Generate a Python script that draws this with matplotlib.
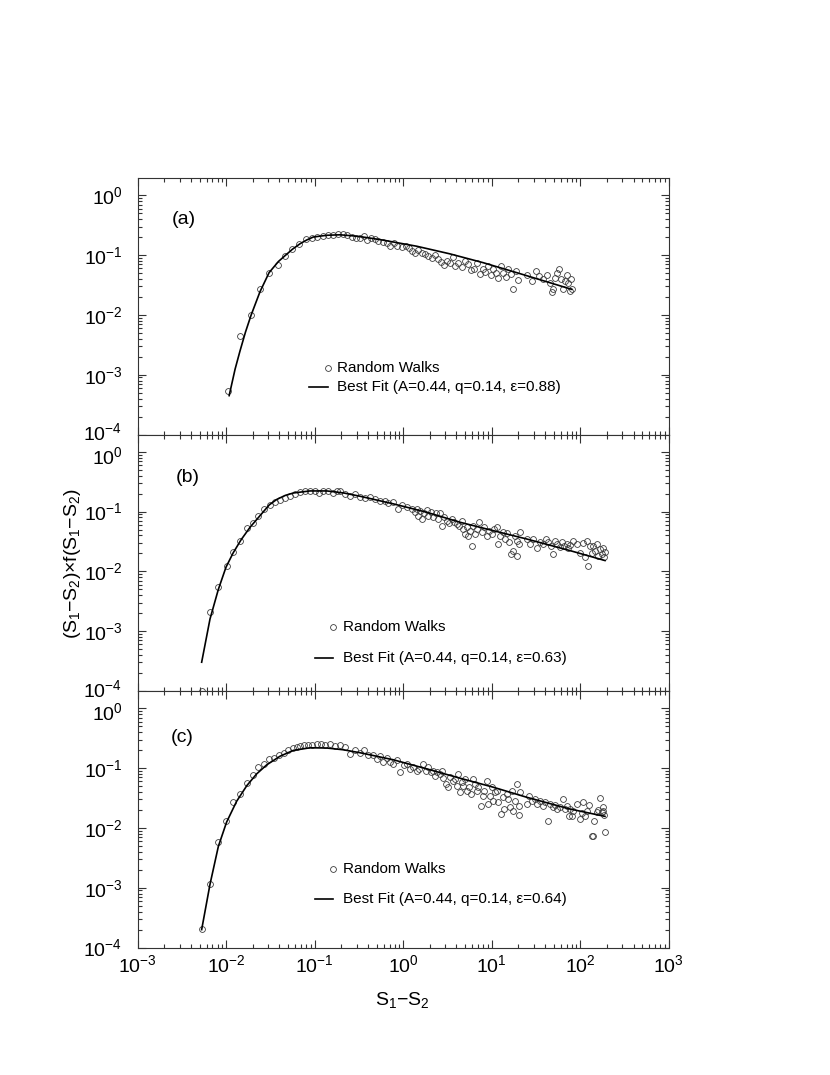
import numpy as np
import matplotlib
matplotlib.use('Agg')
import matplotlib.pyplot as plt
from matplotlib.ticker import LogLocator
from matplotlib.transforms import ScaledTranslation

# Fonts: Helvetica-like text, also inside the math (tick labels, subscripts)
plt.rcParams['font.family'] = ['Liberation Sans', 'DejaVu Sans']
plt.rcParams['mathtext.fontset'] = 'custom'
plt.rcParams['mathtext.rm'] = 'Liberation Sans'
plt.rcParams['mathtext.it'] = 'Liberation Sans'
plt.rcParams['mathtext.bf'] = 'Liberation Sans:bold'
plt.rcParams['mathtext.sf'] = 'Liberation Sans'

# ---- panel (a): random walk points and best fit ----
x_a = [0.0106, 0.0143, 0.0191, 0.0241, 0.0305, 0.0380, 0.0462, 0.0558, 0.0670, 0.0798,
       0.0925, 0.105, 0.123, 0.140, 0.160, 0.185, 0.210, 0.230, 0.262, 0.293,
       0.325, 0.361, 0.387, 0.429, 0.480, 0.523, 0.587, 0.651, 0.709, 0.787,
       0.845, 0.962, 1.08, 1.17, 1.25, 1.36, 1.48, 1.62, 1.76, 1.92,
       2.10, 2.29, 2.49, 2.65, 2.89, 3.10, 3.38, 3.63, 3.85, 4.20,
       4.58, 4.99, 5.44, 5.79, 6.31, 6.77, 7.38, 7.91, 8.40, 9.16,
       9.75, 10.4, 11.2, 11.9, 12.6, 13.5, 14.5, 15.4, 16.4, 17.5,
       18.8, 20.0, 24.8, 28.3, 31.6, 34.5, 38.3, 41.8, 45.6, 47.6,
       49.7, 51.9, 54.2, 58.0, 60.2, 63.4, 67.3, 70.3, 73.4, 76.7,
       78.1, 79.8]
y_a = [0.00054, 0.00437, 0.0099, 0.0275, 0.0509, 0.0679, 0.0962, 0.128, 0.155, 0.183,
       0.195, 0.203, 0.213, 0.215, 0.219, 0.227, 0.224, 0.221, 0.203, 0.195,
       0.192, 0.207, 0.178, 0.195, 0.183, 0.171, 0.165, 0.157, 0.145, 0.157,
       0.141, 0.138, 0.141, 0.133, 0.117, 0.107, 0.121, 0.110, 0.103, 0.0962,
       0.0905, 0.0989, 0.0848, 0.0764, 0.0673, 0.0794, 0.0727, 0.094, 0.0656, 0.0747,
       0.0641, 0.0794, 0.070, 0.0562, 0.0593, 0.0727, 0.0477, 0.0578, 0.0521, 0.0656,
       0.0459, 0.0578, 0.0495, 0.042, 0.0656, 0.0509, 0.0437, 0.0578, 0.0477, 0.0275,
       0.0541, 0.0383, 0.0459, 0.0369, 0.0541, 0.0447, 0.0394, 0.0459, 0.0347, 0.0242,
       0.0268, 0.042, 0.0509, 0.0578, 0.0394, 0.0268, 0.0369, 0.0459, 0.0347, 0.0251,
       0.0394, 0.0268]
fit_x_a = [0.0108, 0.0126, 0.0143, 0.0165, 0.0191, 0.0241, 0.0305, 0.0388, 0.0462, 0.0558,
           0.0682, 0.081, 0.0964, 0.137, 0.193, 0.273, 0.387, 0.596, 1.42, 3.38,
           8.04, 19.2, 80.2]
fit_y_a = [0.000447, 0.00124, 0.00248, 0.00515, 0.0099, 0.0245, 0.0509, 0.078, 0.098, 0.125,
           0.155, 0.179, 0.201, 0.215, 0.219, 0.21, 0.197, 0.178, 0.141, 0.105,
           0.0747, 0.0509, 0.0268]

# ---- panel (b) ----
x_b = [0.00528, 0.00656, 0.00815, 0.0101, 0.0120, 0.0144, 0.0171, 0.0199, 0.0231, 0.0269,
       0.0313, 0.0356, 0.0405, 0.0462, 0.0526, 0.0599, 0.0682, 0.0777, 0.0885, 0.101,
       0.112, 0.125, 0.143, 0.162, 0.180, 0.193, 0.220, 0.251, 0.285, 0.325,
       0.370, 0.422, 0.480, 0.547, 0.622, 0.679, 0.773, 0.867, 0.962, 1.10,
       1.25, 1.36, 1.48,
       1.42, 1.55, 1.62, 1.72, 1.84, 1.92, 2.05, 2.19, 2.35, 2.49,
       2.61, 2.72, 2.89, 3.10, 3.32, 3.53, 3.75, 4.03, 4.31, 4.58,
       4.78, 4.99, 5.22, 5.44, 5.69, 5.94, 6.19, 6.47, 6.88, 7.24,
       7.71, 8.18, 8.79, 9.40, 10.0, 10.6, 11.4, 11.9, 12.4, 13.3,
       14.1, 15.0, 15.8, 16.4, 17.3, 18.3, 19.2, 19.5, 20.5, 20.9,
       24.8, 27.1, 29.5, 32.7, 35.2, 38.3, 41.1, 43.6, 46.4, 49.7,
       51.9, 55.1, 59.2, 61.8, 65.6, 70.3, 73.4, 76.7, 83.6, 91.2,
       99.5, 107, 113, 118, 124, 129, 135, 141, 147, 154,
       160, 167, 175, 182, 186, 191]
y_b = [0.0001, 0.00208, 0.00544, 0.0125, 0.0212, 0.0327, 0.053, 0.0643, 0.0838, 0.110,
       0.128, 0.144, 0.159, 0.167, 0.185, 0.198, 0.216, 0.224, 0.224, 0.224,
       0.203, 0.224, 0.224, 0.203, 0.222, 0.224, 0.198, 0.185, 0.198, 0.174,
       0.167, 0.178, 0.163, 0.153, 0.153, 0.140, 0.147, 0.111, 0.129, 0.119,
       0.111, 0.100, 0.0857,
       0.111, 0.104, 0.0755, 0.094, 0.107, 0.0857, 0.0977, 0.0825, 0.094, 0.0755,
       0.094, 0.0583, 0.0806, 0.0707, 0.064, 0.0755, 0.0665, 0.0623, 0.0583, 0.0707,
       0.0514, 0.0424, 0.0548, 0.0397, 0.0481, 0.027, 0.0583, 0.0424, 0.0514, 0.0665,
       0.0453, 0.0548, 0.0397, 0.0481, 0.0424, 0.0514, 0.0548, 0.0288, 0.0397, 0.0453,
       0.0349, 0.0436, 0.0308, 0.0196, 0.0223, 0.0397, 0.0184, 0.0327, 0.0288, 0.0453,
       0.0349, 0.0288, 0.0349, 0.0247, 0.0308, 0.0288, 0.0349, 0.0308, 0.027, 0.0196,
       0.0327, 0.0288, 0.026, 0.0308, 0.027, 0.0288, 0.0247, 0.0277, 0.0327, 0.0288,
       0.0204, 0.030, 0.0173, 0.0327, 0.0125, 0.027, 0.0204, 0.0264, 0.0223, 0.0288,
       0.0184, 0.0238, 0.0196, 0.0244, 0.0173, 0.0209]
fit_x_b = [0.00528, 0.00656, 0.00815, 0.00995, 0.012, 0.0147, 0.0186, 0.0241, 0.0307, 0.0372,
           0.0465, 0.0573, 0.0885, 0.137, 0.21, 0.325, 0.773, 1.84, 4.38, 10.4,
           24.8, 76.7, 190.5]
fit_y_b = [0.000303, 0.0016, 0.005, 0.0118, 0.0205, 0.0337, 0.0548, 0.0857, 0.13, 0.16,
           0.187, 0.205, 0.222, 0.222, 0.206, 0.181, 0.135, 0.0977, 0.0665, 0.0481,
           0.0349, 0.0223, 0.0152]

# ---- panel (c) ----
x_c = [0.00528, 0.00656, 0.00815, 0.00995, 0.0120, 0.0143, 0.0171, 0.0199, 0.0231, 0.0267,
       0.0307, 0.0347, 0.0398, 0.045, 0.0504, 0.0564, 0.0627, 0.0682, 0.0763, 0.0847,
       0.094, 0.105, 0.117, 0.131, 0.149, 0.170, 0.193, 0.220, 0.251, 0.285,
       0.325, 0.363, 0.403, 0.459, 0.502, 0.547, 0.596, 0.651, 0.709, 0.773,
       0.845, 0.92, 1.02, 1.11, 1.19, 1.30, 1.42, 1.52, 1.69, 1.81,
       1.92, 2.05, 2.15, 2.29, 2.39, 2.61, 2.72, 2.84, 3.05, 3.24,
       3.38, 3.63, 3.85, 4.08, 4.20, 4.38, 4.58, 4.78, 4.99, 5.22,
       5.58, 5.79, 6.19, 6.47, 6.77, 7.06, 7.51, 7.91, 8.18, 8.79,
       9.16, 9.57, 10.0, 10.4, 10.9, 11.4, 11.9, 12.6, 13.3, 13.9,
       14.8, 15.4, 16.1, 16.8, 17.5, 18.3, 19.2, 20.1, 20.6, 20.9,
       24.8, 26.6, 28.3, 30.8, 32.7, 35.2, 37.7, 40.0, 43.6, 45.6,
       48.9, 51.9, 55.1, 59.2, 63.4, 67.3, 71.5, 75.3, 76.7, 80.2,
       83.6, 91.2, 99.5, 104, 108, 113, 118, 127, 135, 141,
       144, 154, 160, 167, 175, 180, 182, 186, 191]
y_c = [0.000207, 0.00114, 0.00571, 0.0132, 0.0269, 0.037, 0.056, 0.078, 0.104, 0.118,
       0.143, 0.149, 0.169, 0.179, 0.198, 0.219, 0.225, 0.231, 0.246, 0.240,
       0.246, 0.249, 0.256, 0.246, 0.249, 0.234, 0.240, 0.225, 0.174, 0.198,
       0.179, 0.198, 0.169, 0.163, 0.143, 0.157, 0.126, 0.149, 0.126, 0.118,
       0.138, 0.0857, 0.111, 0.118, 0.0973, 0.106, 0.0912, 0.0973, 0.118, 0.0912,
       0.104, 0.0857, 0.0912, 0.0751, 0.0877, 0.0802, 0.0912, 0.0679, 0.0545, 0.048,
       0.0706, 0.0619, 0.0661, 0.0498, 0.0802, 0.0395, 0.0582, 0.051, 0.0661, 0.042,
       0.048, 0.037, 0.0661, 0.0545, 0.042, 0.048, 0.0235, 0.0346, 0.042, 0.0619,
       0.0251, 0.0346, 0.048, 0.0285, 0.0395, 0.042, 0.0269, 0.0171, 0.0326, 0.0207,
       0.037, 0.0305, 0.0221, 0.042, 0.0194, 0.0285, 0.0545, 0.0235, 0.0164, 0.0395,
       0.0251, 0.0346, 0.0285, 0.0305, 0.0251, 0.0285, 0.0235, 0.0269, 0.0132, 0.0251,
       0.0221, 0.0242, 0.0207, 0.0221, 0.0305, 0.0207, 0.0235, 0.016, 0.0207, 0.016,
       0.0194, 0.0251, 0.0141, 0.0175, 0.0269, 0.016, 0.0194, 0.0245, 0.00736, 0.00736,
       0.0132, 0.0182, 0.0199, 0.0317, 0.0182, 0.0226, 0.0194, 0.0166, 0.0084]
fit_x_c = [0.00528, 0.00656, 0.00815, 0.0101, 0.0131, 0.0171, 0.0221, 0.0287, 0.0405, 0.0573,
           0.0885, 0.137, 0.21, 0.325, 0.773, 1.84, 4.38, 10.4, 24.8, 76.7,
           190.5]
fit_y_c = [0.000199, 0.00114, 0.0049, 0.0125, 0.0278, 0.051, 0.0802, 0.1135, 0.158, 0.198,
           0.219, 0.217, 0.203, 0.181, 0.138, 0.0973, 0.0679, 0.048, 0.0326, 0.0207,
           0.0156]

panel_labels = ['(a)', '(b)', '(c)']
fit_labels = ['Best Fit (A=0.44, q=0.14, \u03b5=0.88)',
              'Best Fit (A=0.44, q=0.14, \u03b5=0.63)',
              'Best Fit (A=0.44, q=0.14, \u03b5=0.64)']

# layout (axes coords) for the panel tag and the hand-placed legend
tag_pos = [(0.086, 0.84), (0.095, 0.832), (0.083, 0.82)]
# marker x, marker y, line x0, line x1, line y, text x
leg_pos = [(0.358, 0.26, 0.322, 0.358, 0.186, 0.376),
           (0.368, 0.249, 0.334, 0.368, 0.13, 0.387),
           (0.368, 0.305, 0.334, 0.368, 0.188, 0.387)]

data = [(x_a, y_a, fit_x_a, fit_y_a), (x_b, y_b, fit_x_b, fit_y_b), (x_c, y_c, fit_x_c, fit_y_c)]

fig = plt.figure(figsize=(8.3, 10.75), dpi=100)
left, width, h = 0.1659, 0.6398, 0.2386
bottoms = [0.5958, 0.3572, 0.1186]

mk = dict(marker='o', linestyle='none', mfc='none', mec='#3c3c3c', ms=4.2, mew=0.6)

axes = []
for i, (x, y, fx, fy) in enumerate(data):
    ax = fig.add_axes([left, bottoms[i], width, h])
    axes.append(ax)
    ax.set_xscale('log')
    ax.set_yscale('log')

    ax.plot(fx, fy, color='black', lw=1.2, zorder=3)
    ax.plot(x, y, clip_on=False, zorder=2, **mk)

    ax.set_xlim(1e-3, 1e3)
    ax.set_ylim(1e-4, 1.95)

    ax.xaxis.set_major_locator(LogLocator(base=10, numticks=10))
    ax.xaxis.set_minor_locator(LogLocator(base=10, subs=np.arange(2, 10), numticks=20))
    ax.yaxis.set_major_locator(LogLocator(base=10, numticks=10))
    ax.yaxis.set_minor_locator(LogLocator(base=10, subs=np.arange(2, 10), numticks=20))

    ax.tick_params(which='both', direction='in', top=True, right=True, width=0.8, color='#333333')
    ax.tick_params(which='major', length=6)
    ax.tick_params(which='minor', length=3)
    ax.tick_params(axis='y', labelsize=14, pad=11)
    ax.tick_params(axis='x', labelsize=14, pad=5, labelbottom=(i == 2))
    for s in ax.spines.values():
        s.set_linewidth(0.8)
        s.set_color('#333333')

    ax.text(tag_pos[i][0], tag_pos[i][1], panel_labels[i], transform=ax.transAxes,
            fontsize=14, ha='center', va='center')

    # legend drawn by hand so the marker sits at the end of the line sample
    mx, my, lx0, lx1, ly, tx = leg_pos[i]
    ax.plot([mx], [my], transform=ax.transAxes, clip_on=False, **mk)
    ax.plot([lx0, lx1], [ly, ly], transform=ax.transAxes, color='black', lw=1.2)
    ax.text(tx, my, 'Random Walks', transform=ax.transAxes, fontsize=11, va='center')
    ax.text(tx, ly, fit_labels[i], transform=ax.transAxes, fontsize=11, va='center')

fig.text(0.087, 0.476, r'$(S_1{-}S_2){\times}f(S_1{-}S_2)$', rotation=90,
         fontsize=14, ha='center', va='center')
fig.text(0.4845, 0.0698, r'$S_1{-}S_2$', fontsize=14, ha='center', va='center')

# where two panels meet, nudge the 10^-4 / 10^0 labels apart a little
fig.canvas.draw()
for i, ax in enumerate(axes):
    for t in ax.yaxis.get_major_ticks():
        loc = t.get_loc()
        dy = 0
        if i < 2 and np.isclose(loc, 1e-4):
            dy = 3
        if i > 0 and np.isclose(loc, 1.0):
            dy = -3
        if dy:
            t.label1.set_transform(t.label1.get_transform() +
                                   ScaledTranslation(0, dy / 100, fig.dpi_scale_trans))

fig.savefig('out.png', dpi=100)
